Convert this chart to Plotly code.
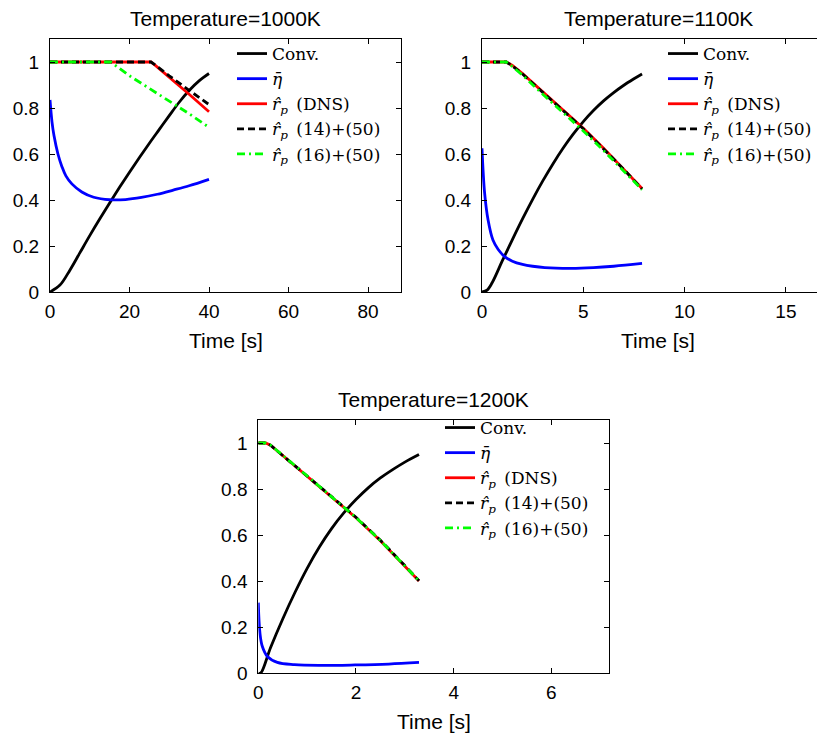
import plotly.graph_objects as go

# ---------------- data ----------------
# Temperature = 1000 K
t_conv_1000 = [0, 2.5, 5, 7.5, 10, 12.5, 15, 17.5, 20, 22.5, 25, 27.5, 30, 32.5, 35, 37.5, 40]
conv_1000 = [0, 0.03, 0.095, 0.17, 0.245, 0.317, 0.387, 0.455, 0.521, 0.585, 0.647, 0.707, 0.767, 0.825, 0.876, 0.918, 0.95]
t_eta_1000 = [0, 0.5, 1, 2, 3, 4, 5.5, 8, 11, 15, 19, 23, 27, 31, 35, 40]
eta_1000 = [0.835, 0.74, 0.68, 0.6, 0.545, 0.505, 0.47, 0.435, 0.412, 0.401, 0.402, 0.411, 0.425, 0.443, 0.462, 0.49]
t_dns_1000 = [0, 25.4, 26.5, 30, 35, 40]
dns_1000 = [1, 1, 0.985, 0.935, 0.86, 0.784]
t_m14_1000 = [0, 25.4, 26.5, 30, 35, 40]
m14_1000 = [1, 1, 0.987, 0.94, 0.877, 0.815]
t_m16_1000 = [0, 15.3, 20, 25, 30, 35, 40]
m16_1000 = [1, 1, 0.94, 0.885, 0.83, 0.775, 0.716]

# Temperature = 1100 K
t_conv_1100 = [0, 0.25, 0.5, 1, 1.5, 2, 2.5, 3, 3.5, 4, 4.5, 5, 5.5, 6, 6.5, 7, 7.5, 7.9]
conv_1100 = [0, 0.008, 0.04, 0.135, 0.228, 0.318, 0.403, 0.483, 0.557, 0.625, 0.686, 0.741, 0.789, 0.831, 0.867, 0.899, 0.927, 0.948]
t_eta_1100 = [0, 0.13, 0.3, 0.54, 0.8, 1.12, 1.5, 2, 2.5, 3.1, 4.4, 5.5, 6.5, 7.9]
eta_1100 = [0.625, 0.43, 0.313, 0.226, 0.185, 0.154, 0.134, 0.12, 0.112, 0.106, 0.103, 0.106, 0.112, 0.124]
t_r_1100 = [0, 1.2, 1.5, 2, 3, 4, 5, 6, 7, 7.9]
dns_1100 = [1, 1, 0.985, 0.95, 0.87, 0.79, 0.712, 0.625, 0.535, 0.45]
m14_1100 = [1, 1, 0.983, 0.948, 0.868, 0.788, 0.71, 0.622, 0.533, 0.448]
m16_1100 = [1, 1, 0.98, 0.943, 0.86, 0.78, 0.70, 0.615, 0.527, 0.445]

# Temperature = 1200 K
t_conv_1200 = [0, 0.05, 0.25, 0.5, 0.75, 1, 1.25, 1.5, 1.75, 2, 2.25, 2.5, 2.75, 3, 3.29]
conv_1200 = [0, 0, 0.11, 0.235, 0.35, 0.455, 0.548, 0.628, 0.696, 0.754, 0.805, 0.848, 0.884, 0.917, 0.95]
t_eta_1200 = [0, 0.034, 0.083, 0.186, 0.39, 0.74, 1.29, 1.98, 2.67, 3.29]
eta_1200 = [0.306, 0.173, 0.115, 0.072, 0.046, 0.036, 0.033, 0.035, 0.039, 0.046]
t_r_1200 = [0, 0.15, 0.25, 0.5, 1, 1.5, 2, 2.5, 3, 3.29]
dns_1200 = [1, 1, 0.99, 0.945, 0.855, 0.765, 0.675, 0.575, 0.465, 0.40]
m14_1200 = [1, 1, 0.99, 0.946, 0.857, 0.767, 0.677, 0.577, 0.467, 0.401]
m16_1200 = [1, 1, 0.991, 0.947, 0.857, 0.766, 0.676, 0.576, 0.466, 0.401]

titles = ["Temperature=1000K", "Temperature=1100K", "Temperature=1200K"]
xlabel = "Time [s]"
legend_names = ["Conv.", "<i>η̄</i>", "<i>r̂</i><sub><i>p</i></sub>\u2002(DNS)",
                "<i>r̂</i><sub><i>p</i></sub>\u2002(14)+(50)", "<i>r̂</i><sub><i>p</i></sub>\u2002(16)+(50)"]
x_ranges = [[0, 88.3], [0, 16.93], [0, 7.18]]
x_ticks = [[0, 20, 40, 60, 80], [0, 5, 10, 15], [0, 2, 4, 6]]
y_ticks = [0, 0.2, 0.4, 0.6, 0.8, 1]
y_ticklabels = ["0", "0.2", "0.4", "0.6", "0.8", "1"]

# page body has an 8px margin, so the figure is 8px smaller and coordinates are shifted
OFF = 8
W, H = 825 - OFF, 738 - OFF

panels = [
    dict(conv=(t_conv_1000, conv_1000), eta=(t_eta_1000, eta_1000),
         dns=(t_dns_1000, dns_1000), m14=(t_m14_1000, m14_1000), m16=(t_m16_1000, m16_1000)),
    dict(conv=(t_conv_1100, conv_1100), eta=(t_eta_1100, eta_1100),
         dns=(t_r_1100, dns_1100), m14=(t_r_1100, m14_1100), m16=(t_r_1100, m16_1100)),
    dict(conv=(t_conv_1200, conv_1200), eta=(t_eta_1200, eta_1200),
         dns=(t_r_1200, dns_1200), m14=(t_r_1200, m14_1200), m16=(t_r_1200, m16_1200)),
]

# screen-pixel boxes of the axes: (left, right, top, bottom)
boxes = [(50, 401, 39, 292), (482, 825, 39, 292), (258.3, 609, 420, 673)]
centers = [225.5, 658, 433.7]

styles = [
    dict(key="conv", color="#000000", dash="solid"),
    dict(key="eta", color="#0000ff", dash="solid"),
    dict(key="dns", color="#ff0000", dash="solid"),
    dict(key="m14", color="#000000", dash="7px,4px"),
    dict(key="m16", color="#00ff00", dash="8px,4px,2px,4px"),
]

fig = go.Figure()
legend_ids = ["legend", "legend2", "legend3"]
for i, p in enumerate(panels):
    suffix = "" if i == 0 else str(i + 1)
    for j, st in enumerate(styles):
        xs, ys = p[st["key"]]
        smooth = st["key"] in ("conv", "eta")
        fig.add_trace(go.Scatter(
            x=xs, y=ys, mode="lines", name=legend_names[j],
            line=dict(color=st["color"], width=2.8, dash=st["dash"],
                      shape="spline" if smooth else "linear", smoothing=1.0 if smooth else None),
            xaxis="x" + suffix, yaxis="y" + suffix, legend=legend_ids[i],
            showlegend=True))

tick_font = dict(family="Liberation Sans, Arial, sans-serif", size=19, color="black")
label_font = dict(family="Liberation Sans, Arial, sans-serif", size=21, color="black")
leg_font = dict(family="DejaVu Serif, serif", size=17, color="black")


def fx(px):
    return (px - OFF) / W


def fy(py):
    return 1 - (py - OFF) / H


layout = dict(width=W, height=H, margin=dict(l=0, r=0, t=0, b=0, autoexpand=False),
              paper_bgcolor="white", plot_bgcolor="white", showlegend=True)
annotations = []
for i, (l, r, t, b) in enumerate(boxes):
    suffix = "" if i == 0 else str(i + 1)
    ax_common = dict(showline=True, linecolor="black", linewidth=1, mirror="ticks",
                     ticks="inside", ticklen=5, tickwidth=1, tickcolor="black",
                     showgrid=False, zeroline=False, tickfont=tick_font, automargin=False)
    layout["xaxis" + suffix] = dict(domain=[fx(l), min(fx(r), 1)], range=x_ranges[i],
                                    tickvals=x_ticks[i], anchor="y" + suffix,
                                    ticklabelstandoff=2, **ax_common)
    layout["yaxis" + suffix] = dict(domain=[fy(b), fy(t)], range=[0, 1.1],
                                    tickvals=y_ticks, ticktext=y_ticklabels,
                                    anchor="x" + suffix, ticklabelstandoff=6, **ax_common)
    cx = centers[i]
    annotations.append(dict(text=titles[i], x=fx(cx), y=fy(t - 21), xref="paper", yref="paper",
                            xanchor="center", yanchor="middle", showarrow=False, font=label_font))
    annotations.append(dict(text=xlabel, x=fx(cx), y=fy(b + 48), xref="paper", yref="paper",
                            xanchor="center", yanchor="middle", showarrow=False, font=label_font))

leg_pos = [(232, 36), (663, 36), (440, 410)]
for i, (lx, ly) in enumerate(leg_pos):
    layout[legend_ids[i]] = dict(x=fx(lx), y=fy(ly), xanchor="left", yanchor="top",
                                 bgcolor="rgba(0,0,0,0)", borderwidth=0, font=leg_font,
                                 itemclick=False, itemdoubleclick=False)
layout["annotations"] = annotations
fig.update_layout(**layout)

fig.write_html("out.html")
